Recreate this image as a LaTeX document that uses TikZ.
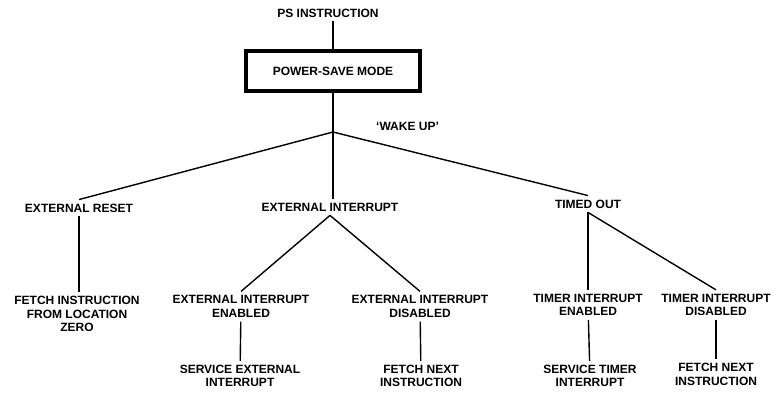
\documentclass[tikz,border=0pt]{standalone}
\usepackage{fontspec}
\setmainfont{Liberation Sans}
\usetikzlibrary{positioning}
\begin{document}
\begin{tikzpicture}[
      x=1pt, y=-1pt,
      lbl/.style={font=\bfseries\fontsize{12}{13.5}\selectfont, align=center, inner sep=4pt},
      modebox/.style={lbl, draw, line width=3.2pt, minimum width=174pt, minimum height=40pt},
      ln/.style={line width=1.4pt}
    ]
      \fill[white] (0,0) rectangle (779,393);
      \useasboundingbox (0,0) rectangle (779,393);
      % top of the tree
      \node[lbl] (ps) at (328,13) {PS INSTRUCTION};
      \node[modebox] (mode) at (333,71) {POWER-SAVE MODE};
      \coordinate (wake) at (333,132);
      \node[lbl, anchor=west] (wakeup) at (372,126) {`WAKE UP'};
      % first level
      \node[lbl] (reset) at (79,208) {EXTERNAL RESET};
      \node[lbl] (ei) at (330,207) {EXTERNAL INTERRUPT};
      \node[lbl] (timed) at (588,204) {TIMED OUT};
      % second level
      \node[lbl] (fetchzero) at (77,314) {FETCH INSTRUCTION\\FROM LOCATION\\ZERO};
      \node[lbl] (eienab) at (241,306.5) {EXTERNAL INTERRUPT\\ENABLED};
      \node[lbl] (eidis) at (420,306.5) {EXTERNAL INTERRUPT\\DISABLED};
      \node[lbl] (tienab) at (588,305) {TIMER INTERRUPT\\ENABLED};
      \node[lbl] (tidis) at (716,305) {TIMER INTERRUPT\\DISABLED};
      % third level
      \node[lbl] (servext) at (240,376) {SERVICE EXTERNAL\\INTERRUPT};
      \node[lbl] (nextext) at (421,376) {FETCH NEXT\\INSTRUCTION};
      \node[lbl] (servtim) at (590,376) {SERVICE TIMER\\INTERRUPT};
      \node[lbl] (nexttim) at (716,374.5) {FETCH NEXT\\INSTRUCTION};
      % connectors
      \draw[ln] (ps.south -| mode.north) -- (mode.north);
      \draw[ln] (mode.south) -- (wake);
      \draw[ln] (wake) -- (reset.north);
      \draw[ln] (wake) -- (wake |- ei.north);
      \draw[ln] (wake) -- (timed.north);
      \draw[ln] (reset.south) -- (reset.south |- fetchzero.north);
      \draw[ln] (ei.south) -- (eienab.north);
      \draw[ln] (ei.south) -- (eidis.north);
      \draw[ln] (timed.south) -- (timed.south |- tienab.north);
      \draw[ln] (timed.south) -- (tidis.north);
      \draw[ln] (eienab) -- (servext);
      \draw[ln] (eidis) -- (nextext);
      \draw[ln] (tienab) -- (servtim);
      \draw[ln] (tidis) -- (nexttim);
    \end{tikzpicture}
\end{document}
